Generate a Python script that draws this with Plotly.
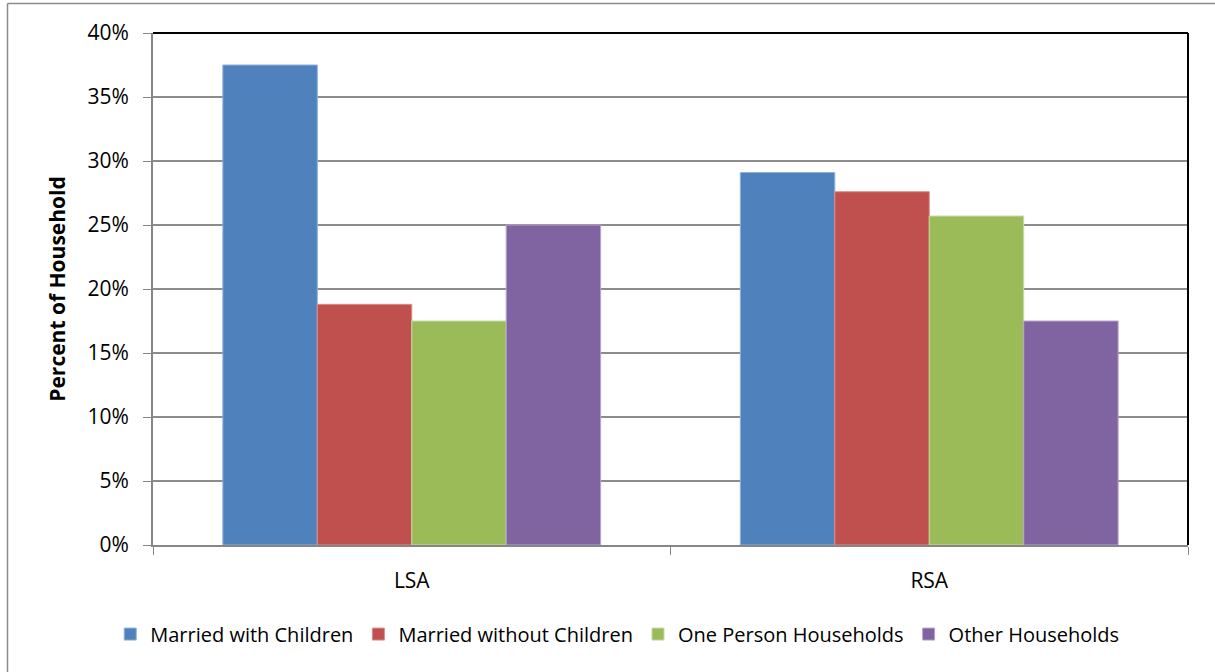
import plotly.graph_objects as go

categories = ["LSA", "RSA"]
series_names = ["Married with Children", "Married without Children",
                "One Person Households", "Other Households"]
married_with_children = [0.375, 0.291]
married_without_children = [0.188, 0.276]
one_person_households = [0.175, 0.257]
other_households = [0.250, 0.175]
y_ticks = [0, 0.05, 0.10, 0.15, 0.20, 0.25, 0.30, 0.35, 0.40]
y_tick_labels = ["0%", "5%", "10%", "15%", "20%", "25%", "30%", "35%", "40%"]

colors = ["#4F81BD", "#C0504D", "#9BBB59", "#8064A2"]
edge_colors = ["#8FB0DA", "#DB8C8A", "#C7DBA4", "#B7A4CC"]
values = [married_with_children, married_without_children,
          one_person_households, other_households]

W, H = 1215, 672
L, R, T, B = 153, 27, 33, 127
font = "Open Sans, Lato, sans-serif"

fig = go.Figure()
for name, vals, c, ec in zip(series_names, values, colors, edge_colors):
    fig.add_trace(go.Bar(name=name, x=categories, y=vals, marker_color=c,
                         marker_line=dict(color=ec, width=1)))

fig.update_layout(
    width=W, height=H,
    margin=dict(l=L, r=R, t=T, b=B, pad=0, autoexpand=False),
    paper_bgcolor="white", plot_bgcolor="white",
    barmode="group", bargap=0.27, bargroupgap=0,
    font=dict(family=font, size=21, color="black"),
    showlegend=True,
    legend=dict(orientation="h", xref="container", x=0.508, xanchor="center",
                y=-0.174, yanchor="middle",
                font=dict(size=20), itemwidth=30, tracegroupgap=0,
                traceorder="normal"),
    xaxis=dict(showline=True, linecolor="#868686", linewidth=2,
               ticks="outside", tickson="boundaries", ticklen=8,
               tickcolor="#868686", tickwidth=1,
               tickfont=dict(size=21), ticklabelstandoff=16, showgrid=False),
    yaxis=dict(range=[0, 0.40], tickvals=y_ticks, ticktext=y_tick_labels,
               showline=True, linecolor="#868686", linewidth=2,
               ticks="outside", ticklen=8, tickcolor="#868686",
               gridcolor="#8C8C8C", gridwidth=2, zeroline=False,
               tickfont=dict(size=21), ticklabelstandoff=10,
               title=dict(text="<b>Percent of Household</b>", font=dict(size=21),
                          standoff=16)),
)

def px_x(p):
    return (p - L) / (W - L - R)

def px_y(p):
    return (H - B - p) / (H - T - B)

# black top and right border of plot area
fig.add_shape(type="line", xref="paper", yref="paper", x0=0, x1=1, y0=1, y1=1,
              line=dict(color="black", width=2))
fig.add_shape(type="line", xref="paper", yref="paper", x0=1, x1=1, y0=0, y1=1,
              line=dict(color="black", width=2))
# outer chart frame (top and left)
fig.add_shape(type="line", xref="paper", yref="paper",
              x0=px_x(7.5), x1=px_x(1230), y0=px_y(3.5), y1=px_y(3.5),
              line=dict(color="#8C8C8C", width=1.5))
fig.add_shape(type="line", xref="paper", yref="paper",
              x0=px_x(7.5), x1=px_x(7.5), y0=px_y(3.5), y1=px_y(700),
              line=dict(color="#8C8C8C", width=1.5))

fig.write_html("out.html")
